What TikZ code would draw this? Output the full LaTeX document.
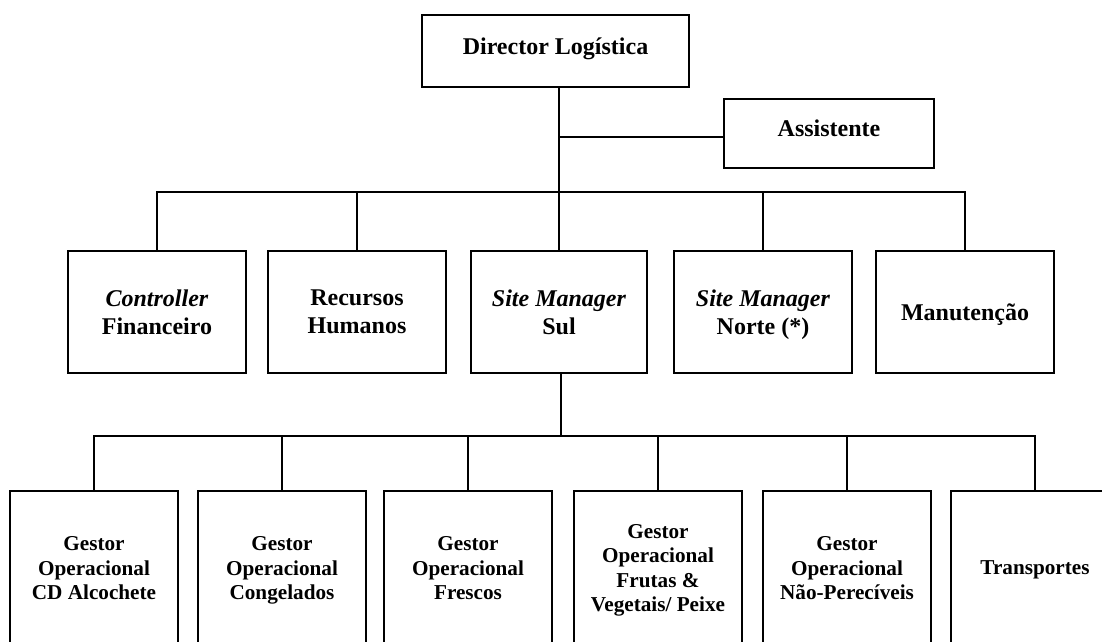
\documentclass[tikz,border=0pt]{standalone}
\usepackage{fontspec}
\setmainfont{Liberation Serif}
\begin{document}
\begin{tikzpicture}[x=1pt,y=-1pt,
  box/.style={draw=black, line width=2pt, rectangle, inner sep=0pt, align=center},
  topbox/.style={box, font=\fontsize{24}{28}\selectfont\bfseries, text height=16.6pt, text depth=10.6pt},
  midbox/.style={box, minimum width=178pt, minimum height=122pt,
    font=\fontsize{24}{28}\selectfont\bfseries, text depth=0pt},
  lowbox/.style={box, minimum width=168pt, minimum height=154pt,
    font=\fontsize{21.2}{24.5}\selectfont\bfseries, text depth=0pt},
  link/.style={line width=2pt}]
\useasboundingbox (0,0) rectangle (1102,641);
\clip (0,0) rectangle (1102,641);

% top level
\node[topbox, minimum width=267pt, minimum height=72pt] (dir) at (555.5,51) {Director Logística};
\node[topbox, minimum width=210pt, minimum height=69pt] (asst) at (829,133.5) {Assistente};

% second level
\node[midbox] (ctrl)  at (157,312) {\textit{Controller}\\Financeiro};
\node[midbox] (rh)    at (357,312) {Recursos\\Humanos};
\node[midbox, minimum width=176pt] (sul) at (559,312) {\textit{Site Manager}\\Sul};
\node[midbox] (norte) at (763,312) {\textit{Site Manager}\\Norte (*)};
\node[midbox] (manut) at (965,312) {Manutenção};

% third level
\node[lowbox] (g1) at (94,568)   {Gestor\\Operacional\\CD Alcochete};
\node[lowbox] (g2) at (282,568)  {Gestor\\Operacional\\Congelados};
\node[lowbox] (g3) at (468,568)  {Gestor\\Operacional\\Frescos};
\node[lowbox] (g4) at (658,568)  {Gestor\\Operacional\\Frutas \&\\Vegetais/ Peixe};
\node[lowbox] (g5) at (847,568)  {Gestor\\Operacional\\Não-Perecíveis};
\node[lowbox] (g6) at (1035,568) {Transportes};

% bus levels
\coordinate (midbus) at (0,192);
\coordinate (lowbus) at (0,436);

% connectors
\draw[link] (sul.north) -- (sul.north |- dir.south);
\draw[link] ([yshift=-3.5pt]asst.west) -- ([yshift=-3.5pt]asst.west -| sul.north);
\draw[link] (ctrl.north) -- (ctrl.north |- midbus) -- (manut.north |- midbus) -- (manut.north);
\foreach \n in {rh,norte} \draw[link] (\n.north) -- (\n.north |- midbus);
\draw[link] ([xshift=2pt]sul.south) -- ([xshift=2pt]sul.south |- lowbus);
\draw[link] (g1.north) -- (g1.north |- lowbus) -- (g6.north |- lowbus) -- (g6.north);
\foreach \n in {g2,g3,g4,g5} \draw[link] (\n.north) -- (\n.north |- lowbus);
\end{tikzpicture}
\end{document}
